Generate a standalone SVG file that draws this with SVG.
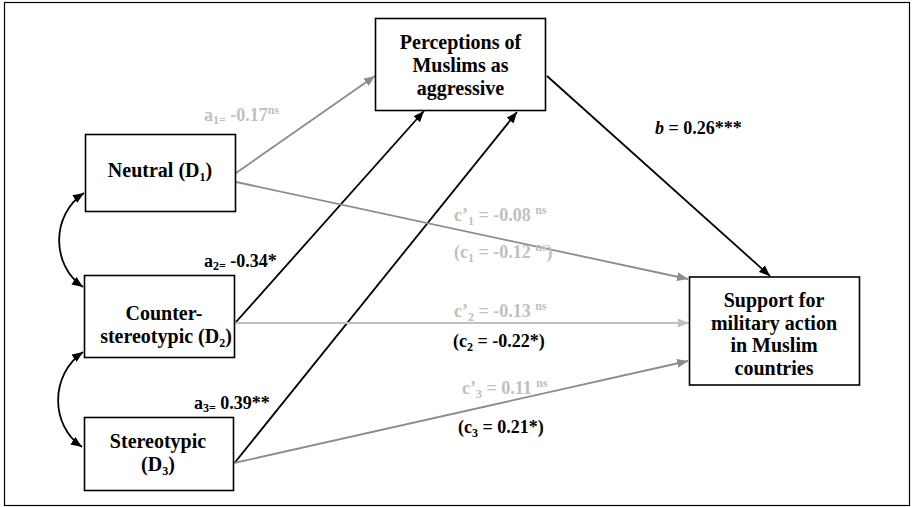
<svg xmlns="http://www.w3.org/2000/svg" width="913" height="507" viewBox="0 0 913 507">
<style>
.box{fill:#fff;stroke:#000;stroke-width:1.6}
text{font-family:'Liberation Serif','Times New Roman','DejaVu Serif',serif;font-weight:bold}
.nt{font-size:20px;fill:#000;text-anchor:middle}
.lb{font-size:18px}
.lg{fill:#c0c0c0}
.bk{fill:#000}
.sm{font-size:12px}
.ln{fill:none;stroke-width:1.8}
.kb{stroke:#000;marker-end:url(#ak)}
.kg{stroke:#8c8c8c;marker-end:url(#ag)}
.kl{stroke:#c0c0c0;marker-end:url(#al)}
.cv{stroke:#000;marker-start:url(#ak);marker-end:url(#ak)}
</style>
<defs>
<marker id="ak" markerUnits="userSpaceOnUse" markerWidth="12" markerHeight="9" refX="11" refY="4.5" orient="auto-start-reverse"><path d="M0,0 L11,4.5 L0,9 Z" fill="#000"/></marker>
<marker id="ag" markerUnits="userSpaceOnUse" markerWidth="12" markerHeight="9" refX="11" refY="4.5" orient="auto"><path d="M0,0 L11,4.5 L0,9 Z" fill="#8c8c8c"/></marker>
<marker id="al" markerUnits="userSpaceOnUse" markerWidth="12" markerHeight="9" refX="11" refY="4.5" orient="auto"><path d="M0,0 L11,4.5 L0,9 Z" fill="#c0c0c0"/></marker>
</defs>
<rect x="0" y="0" width="913" height="507" fill="#fff"/>
<rect x="4.5" y="2.5" width="905" height="503" fill="none" stroke="#000" stroke-width="1.2"/>
<g id="connectors">
<line class="ln kg" x1="236" y1="173" x2="375" y2="76"/>
<line class="ln kb" x1="236" y1="322" x2="424" y2="111"/>
<line class="ln kb" x1="234.5" y1="463" x2="517" y2="112"/>
<line class="ln kb" x1="547" y1="76" x2="770" y2="276"/>
<line class="ln kg" x1="236" y1="182" x2="688" y2="279"/>
<line class="ln kl" x1="235" y1="323" x2="689" y2="323"/>
<line class="ln kg" x1="234" y1="463" x2="688" y2="361"/>
<path class="ln cv" d="M84,193 C51,215 51,265 83,287"/>
<path class="ln cv" d="M83,352 C50,375 50,425 82,447"/>
</g>
<g id="perceptions">
<rect class="box" x="375.5" y="18.5" width="170" height="92"/>
<text class="nt" x="460.5" y="49">Perceptions of</text>
<text class="nt" x="460.5" y="72">Muslims as</text>
<text class="nt" x="460.5" y="95">aggressive</text>
</g>
<g id="neutral">
<rect class="box" x="85.5" y="134.5" width="150" height="77"/>
<text class="nt" x="160" y="177">Neutral (D<tspan class="sm" dy="4">1</tspan><tspan dy="-4">)</tspan></text>
</g>
<g id="counter">
<rect class="box" x="84.5" y="275.5" width="150" height="82"/>
<text class="nt" x="164" y="320">Counter-</text>
<text class="nt" x="166" y="343">stereotypic (D<tspan class="sm" dy="4">2</tspan><tspan dy="-4">)</tspan></text>
</g>
<g id="stereotypic">
<rect class="box" x="84.5" y="417.5" width="149" height="73"/>
<text class="nt" x="158" y="448">Stereotypic</text>
<text class="nt" x="158" y="471">(D<tspan class="sm" dy="4">3</tspan><tspan dy="-4">)</tspan></text>
</g>
<g id="support">
<rect class="box" x="689.5" y="277" width="170" height="108"/>
<text class="nt" x="774" y="307">Support for</text>
<text class="nt" x="774" y="330">military action</text>
<text class="nt" x="774" y="352">in Muslim</text>
<text class="nt" x="774" y="375">countries</text>
</g>
<g id="labels">
<text class="lb lg" x="204" y="121">a<tspan class="sm" dy="3">1=</tspan><tspan dy="-3"> -0.17</tspan><tspan class="sm" dy="-7">ns</tspan></text>
<text class="lb bk" x="655" y="134"><tspan font-style="italic">b</tspan> = 0.26***</text>
<text class="lb lg" x="454" y="221">c’<tspan class="sm" dy="4">1</tspan><tspan dy="-4"> = -0.08 </tspan><tspan class="sm" dy="-7">ns</tspan></text>
<text class="lb lg" x="454" y="258">(c<tspan class="sm" dy="4">1</tspan><tspan dy="-4"> = -0.12 </tspan><tspan class="sm" dy="-7">ns</tspan><tspan dy="7">)</tspan></text>
<text class="lb bk" x="204" y="267">a<tspan class="sm" dy="3">2=</tspan><tspan dy="-3"> -0.34*</tspan></text>
<text class="lb lg" x="454" y="317">c’<tspan class="sm" dy="4">2</tspan><tspan dy="-4"> = -0.13 </tspan><tspan class="sm" dy="-7">ns</tspan></text>
<text class="lb bk" x="453" y="347">(c<tspan class="sm" dy="4">2</tspan><tspan dy="-4"> = -0.22*)</tspan></text>
<text class="lb bk" x="194" y="409">a<tspan class="sm" dy="3">3=</tspan><tspan dy="-3"> 0.39**</tspan></text>
<text class="lb lg" x="462" y="394">c’<tspan class="sm" dy="4">3</tspan><tspan dy="-4"> = 0.11 </tspan><tspan class="sm" dy="-7">ns</tspan></text>
<text class="lb bk" x="458" y="433">(c<tspan class="sm" dy="4">3</tspan><tspan dy="-4"> = 0.21*)</tspan></text>
</g>
</svg>
